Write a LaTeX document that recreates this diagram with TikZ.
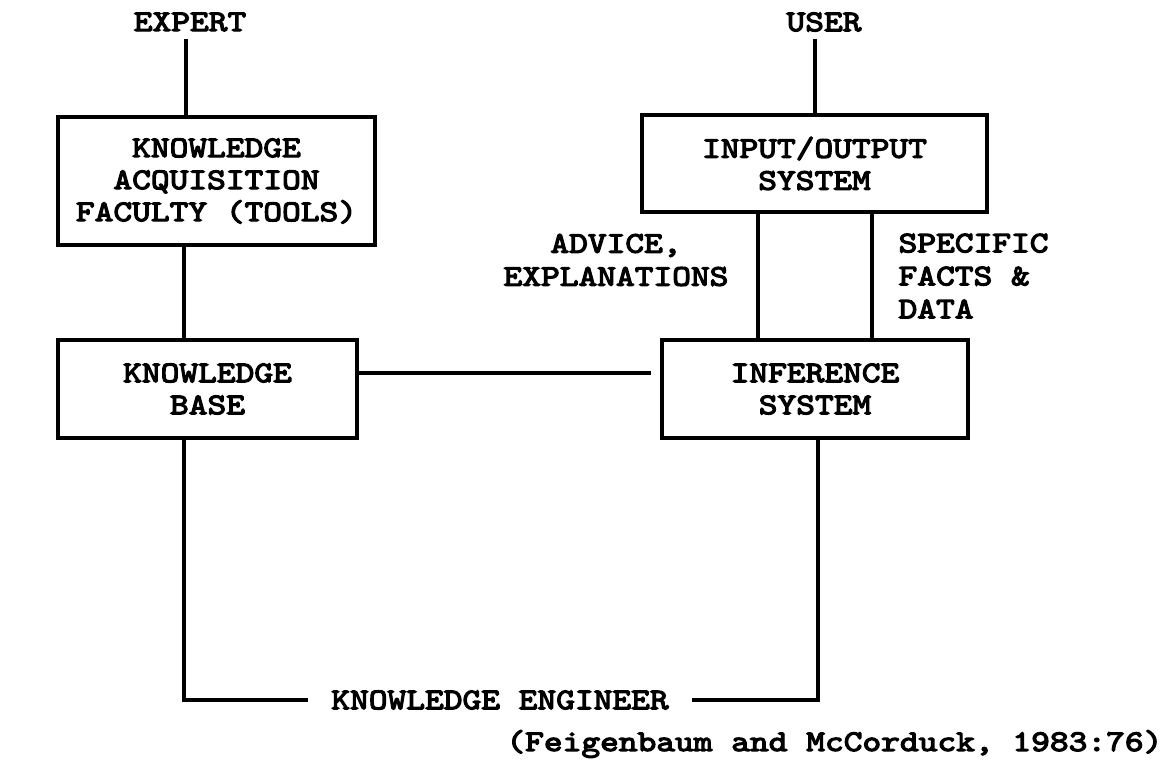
\documentclass[tikz,border=0pt]{standalone}
\usepackage{fontspec}
\newfontfamily\typew{lmmono10-regular.otf}[FakeBold=4,FakeStretch=1.19]
\begin{document}
\begin{tikzpicture}[x=1pt,y=-1pt,line width=3.2pt,
  txt/.style={font=\typew\fontsize{30}{33}\selectfont,inner sep=0pt,align=center},
  block/.style={draw,rectangle,inner sep=0pt,align=center,
    font=\typew\fontsize{30}{32}\selectfont},
  link/.style={draw,line width=3.2pt}]
\useasboundingbox (0,0) rectangle (1172,769);

% people at the ends of the system
\node[txt] (expert) at (190,22) {EXPERT};
\node[txt] (user) at (824,22) {USER};

% components
\node[block,minimum width=317pt,minimum height=128pt] (kaf) at (216.5,181)
  {KNOWLEDGE\\ACQUISITION\\FACULTY (TOOLS)};
\node[block,minimum width=299pt,minimum height=98pt] (kb) at (207.5,389)
  {KNOWLEDGE\\BASE};
\node[block,minimum width=345pt,minimum height=97pt] (io) at (814.5,163.5)
  {INPUT/OUTPUT\\SYSTEM};
\node[block,minimum width=306pt,minimum height=98pt] (inf) at (815,389)
  {INFERENCE\\SYSTEM};

% flow labels
\node[txt] (advice) at (616,260) {ADVICE,\\EXPLANATIONS};
\node[txt,align=left,anchor=west] (facts) at (897,276) {SPECIFIC\\FACTS \&\\DATA};

% knowledge engineer and source
\node[txt] (ke) at (500,700) {KNOWLEDGE ENGINEER};
\node[txt,anchor=east] (cite) at (1164,744) {(Feigenbaum and McCorduck, 1983:76)};

% connectors
\coordinate (kbleg) at (184,700);
\coordinate (infleg) at (818,700);
\draw[link] (186,39) -- (186,0 |- kaf.north);
\draw[link] (815,39) -- (815,0 |- io.north);
\draw[link] (184,0 |- kaf.south) -- (184,0 |- kb.north);
\draw[link] (kb.east |- 0,373) -- ([xshift=-9pt]inf.west |- 0,373);
\draw[link] (758,0 |- io.south) -- (758,0 |- inf.north);
\draw[link] (872,0 |- io.south) -- (872,0 |- inf.north);
\draw[link] (184,0 |- kb.south) -- (kbleg) -- ([xshift=-22pt]ke.west);
\draw[link] ([xshift=22pt]ke.east) -- (infleg) -- (818,0 |- inf.south);
\end{tikzpicture}
\end{document}
